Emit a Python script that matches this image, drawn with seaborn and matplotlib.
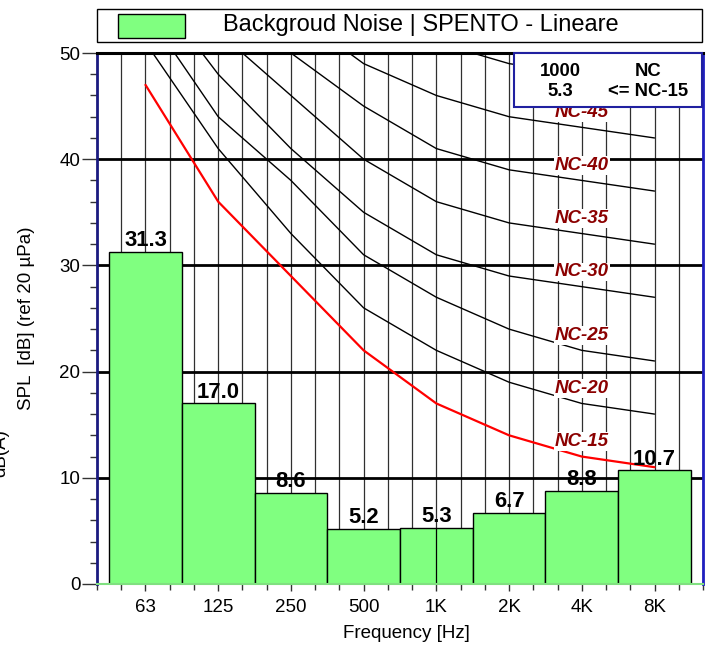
import numpy as np
import pandas as pd
import matplotlib
matplotlib.use("Agg")
import matplotlib.pyplot as plt
import seaborn as sns
from matplotlib.patches import Rectangle

# ---------------- data ----------------
bands = ["63", "125", "250", "500", "1K", "2K", "4K", "8K"]
levels = [31.3, 17.0, 8.6, 5.2, 5.3, 6.7, 8.8, 10.7]

nc_ratings = [15, 20, 25, 30, 35, 40, 45, 50, 55, 60, 65, 70]
nc_15 = [47, 36, 29, 22, 17, 14, 12, 11]
nc_20 = [51, 41, 33, 26, 22, 19, 17, 16]
nc_25 = [54, 44, 38, 31, 27, 24, 22, 21]
nc_30 = [57, 48, 41, 35, 31, 29, 28, 27]
nc_35 = [60, 52, 46, 40, 36, 34, 33, 32]
nc_40 = [64, 56, 50, 45, 41, 39, 38, 37]
nc_45 = [67, 60, 54, 49, 46, 44, 43, 42]
nc_50 = [71, 64, 58, 54, 51, 49, 48, 47]
nc_55 = [74, 67, 62, 58, 56, 54, 53, 52]
nc_60 = [77, 71, 67, 63, 61, 59, 58, 57]
nc_65 = [80, 75, 71, 68, 66, 64, 63, 62]
nc_70 = [83, 79, 75, 72, 71, 70, 69, 68]
nc_values = [nc_15, nc_20, nc_25, nc_30, nc_35, nc_40, nc_45,
             nc_50, nc_55, nc_60, nc_65, nc_70]
labelled_nc = [15, 20, 25, 30, 35, 40, 45]

legend_text = "Backgroud Noise | SPENTO - Lineare"
info_freq = "1000"
info_level = "5.3"
info_nc = "<= NC-15"

# ---------------- style ----------------
sns.set_style("white")
plt.rcParams["font.family"] = ["Liberation Sans", "DejaVu Sans"]
plt.rcParams["text.color"] = "black"
plt.rcParams["axes.labelcolor"] = "black"
plt.rcParams["xtick.color"] = "black"
plt.rcParams["ytick.color"] = "black"

W, H = 707, 646
fig = plt.figure(figsize=(W / 100, H / 100), dpi=100)
L, R, T, B = 97, 703, 53, 584
ax = fig.add_axes([L / W, 1 - B / H, (R - L) / W, (B - T) / H])

pos = np.arange(len(bands))

# vertical third-octave grid
for k in range(-1, 3 * len(bands)):
    ax.axvline(k / 3, color="#303030", lw=0.9, zorder=1)
# horizontal grid
for yv in [10, 20, 30, 40]:
    ax.axhline(yv, color="black", lw=2.0, zorder=1.5)

# bars
df = pd.DataFrame({"band": bands, "level": levels})
sns.barplot(data=df, x="band", y="level", order=bands, width=1.0,
            color="#80ff80", saturation=1, edgecolor="black", linewidth=1.0,
            ax=ax, zorder=3)

# 1 kHz marker line through the bar
ax.vlines(pos[4], 0, levels[4], color="black", lw=0.9, zorder=3.5)

# NC curves
rows = []
for r, vals in zip(nc_ratings, nc_values):
    for p, v in zip(pos, vals):
        rows.append({"pos": p, "level": v, "rating": r})
nc_df = pd.DataFrame(rows)
sns.lineplot(data=nc_df[nc_df.rating > 15], x="pos", y="level", units="rating",
             estimator=None, sort=False, color="black", lw=1.0, ax=ax,
             legend=False, zorder=2)
sns.lineplot(data=nc_df[nc_df.rating == 15], x="pos", y="level",
             estimator=None, sort=False, color="#ff0000", lw=1.6, ax=ax,
             legend=False, zorder=2.5)

# NC labels at 4K
for r, vals in zip(nc_ratings, nc_values):
    if r in labelled_nc:
        ax.text(pos[6], vals[6] + 1.4, f"NC-{r}", ha="center", va="center",
                color="#8B0000", fontsize=13.5, fontweight="bold",
                fontstyle="italic", zorder=4,
                bbox=dict(facecolor="white", edgecolor="none", pad=0.5))

# bar value labels
for p, v in zip(pos, levels):
    ax.annotate(f"{v:.1f}", (p, v), xytext=(0, 0.5), textcoords="offset points",
                ha="center", va="bottom", fontsize=15.8, fontweight="bold",
                color="black", zorder=5)

# axes limits / ticks
ax.set_xlim(-2 / 3, len(bands) - 1 + 2 / 3)
ax.set_ylim(0, 50)
ax.set_xticks(pos)
ax.set_xticklabels(bands)
minor_x = [k / 3 for k in range(-2, 3 * len(bands)) if k % 3 != 0]
ax.set_xticks(minor_x, minor=True)
ax.set_yticks(np.arange(0, 51, 10))
ax.set_yticks(np.arange(0, 51, 2), minor=True)
ax.tick_params(axis="x", which="major", direction="out", length=5, width=1,
               color="#333333", labelcolor="black", labelsize=13.5, pad=6,
               bottom=True)
ax.tick_params(axis="x", which="minor", direction="out", length=4, width=1,
               color="#333333", bottom=True)
ax.tick_params(axis="y", which="major", direction="out", length=11, width=1,
               color="#333333", labelcolor="black", labelsize=13.5, pad=1,
               left=True)
ax.tick_params(axis="y", which="minor", direction="out", length=5, width=1,
               color="#333333", left=True)

ax.set_xlabel("Frequency [Hz]", fontsize=13.5, color="black")
ax.set_ylabel("SPL  [dB] (ref 20 µPa)", fontsize=13.5, color="black")
ax.xaxis.set_label_coords((406 - L) / (R - L), (B - 633) / (B - T))
ax.xaxis.label.set_va("center")
ax.yaxis.set_label_coords((26 - L) / (R - L), (B - 318) / (B - T))
ax.yaxis.label.set_va("center")

# spines
for s in ax.spines.values():
    s.set_visible(True)
ax.spines["left"].set_color("#1a1a80")
ax.spines["left"].set_linewidth(2)
ax.spines["right"].set_color("#1f1fbf")
ax.spines["right"].set_linewidth(2)
ax.spines["top"].set_color("black")
ax.spines["top"].set_linewidth(2.2)
ax.spines["bottom"].set_color("#80e080")
ax.spines["bottom"].set_linewidth(1.5)
for s in ax.spines.values():
    s.set_zorder(6)

# info box (top-right)
bx0 = (514 - L) / (R - L)
bx1 = (702 - L) / (R - L)
by0 = (B - 107) / (B - T)
ax.add_patch(Rectangle((bx0, by0), bx1 - bx0, 1 - by0, transform=ax.transAxes,
                       facecolor="white", edgecolor="#2020a0", lw=1.5,
                       zorder=7, clip_on=False))
c1 = (560 - L) / (R - L)
c2 = (648 - L) / (R - L)
r1 = (B - 71) / (B - T)
r2 = (B - 91) / (B - T)
for (cx, cy, t) in [(c1, r1, info_freq), (c2, r1, "NC"),
                    (c1, r2, info_level), (c2, r2, info_nc)]:
    ax.text(cx, cy, t, transform=ax.transAxes, ha="center", va="center",
            fontsize=13.3, fontweight="bold", color="black", zorder=8)

# legend box on top
fig.patches.append(Rectangle((L / W, 1 - 42 / H), (702 - L) / W, 33 / H,
                             transform=fig.transFigure, facecolor="white",
                             edgecolor="black", lw=1.0))
fig.patches.append(Rectangle((118 / W, 1 - 38 / H), 67 / W, 24 / H,
                             transform=fig.transFigure, facecolor="#80ff80",
                             edgecolor="black", lw=1.0))
fig.text(223 / W, 1 - 25 / H, legend_text, ha="left", va="center", fontsize=17,
         color="black")

# cut-off dB(A) label at far left
fig.text(1 / W, 1 - 453 / H, "dB(A)", rotation=90, ha="center", va="center",
         fontsize=13.5, color="black")

fig.savefig("out.png", dpi=100)
